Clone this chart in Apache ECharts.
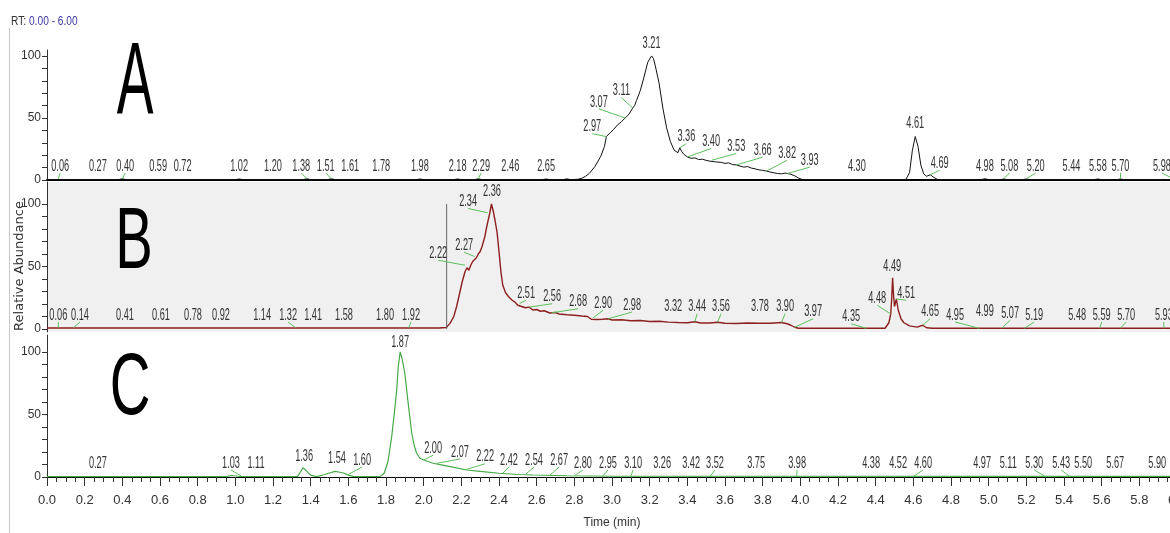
<!DOCTYPE html>
<html>
<head>
<meta charset="utf-8">
<script src="https://cdn.jsdelivr.net/npm/echarts@6/dist/echarts.min.js"></script>
<style>
html, body { margin: 0; padding: 0; background: #fff; }
#chart { width: 1170px; height: 533px; }
</style>
</head>
<body>
<div id="chart"></div>
<script>
// Chromatogram traces, [time (min), relative abundance]
const traceA = [
    [0.00, 0.3], [0.05, 0.3], [0.06, 1.0], [0.08, 0.3], [0.38, 0.3], [0.40, 1.0], [0.42, 0.3],
    [1.00, 0.3], [1.02, 0.8], [1.04, 0.3], [1.36, 0.3], [1.38, 1.0], [1.40, 0.3], [1.49, 0.3], [1.51, 1.0], [1.53, 0.3],
    [1.96, 0.3], [1.98, 0.8], [2.00, 0.3], [2.16, 0.3], [2.18, 0.8], [2.20, 0.3], [2.27, 0.3], [2.29, 1.0], [2.31, 0.3],
    [2.63, 0.3], [2.65, 0.8], [2.67, 0.3], [2.74, 0.3], [2.76, 0.9], [2.78, 0.3],
    [2.82, 0.6], [2.84, 1.4], [2.86, 3.0], [2.88, 5.4], [2.91, 11], [2.94, 19], [2.96, 27], [2.97, 35],
    [2.98, 36], [2.99, 38], [3.00, 37.5], [3.01, 41], [3.02, 42], [3.03, 44.5], [3.04, 44], [3.05, 47], [3.06, 46.5],
    [3.07, 50], [3.08, 49], [3.09, 53], [3.10, 52], [3.11, 58], [3.12, 60], [3.13, 64], [3.15, 72], [3.17, 83], [3.19, 95],
    [3.21, 100], [3.22, 98], [3.23, 92], [3.25, 78], [3.27, 58], [3.29, 42], [3.31, 31], [3.33, 24], [3.34, 23], [3.35, 22],
    [3.36, 26], [3.37, 23], [3.38, 21], [3.39, 19.5], [3.40, 18.5], [3.42, 17.5], [3.44, 17.8], [3.46, 16.5], [3.48, 16.8],
    [3.50, 15.8], [3.52, 15.2], [3.53, 16], [3.55, 14.6], [3.58, 14.2], [3.60, 13.4], [3.62, 13.8], [3.64, 12.4], [3.66, 12.2],
    [3.68, 11.2], [3.70, 10.4], [3.72, 10.8], [3.74, 9.6], [3.76, 9.0], [3.78, 8.2], [3.80, 7.8], [3.82, 7.2], [3.84, 6.4],
    [3.86, 5.8], [3.88, 5.2], [3.90, 5.0], [3.92, 5.6], [3.93, 5.2], [3.95, 4.6], [3.97, 3.4], [3.99, 1.6], [4.01, 0.4],
    [4.56, 0.3], [4.58, 6], [4.595, 24], [4.61, 35], [4.625, 27], [4.64, 12], [4.655, 5], [4.67, 3], [4.69, 4.2], [4.71, 2], [4.73, 0.3],
    [4.96, 0.3], [4.98, 1.0], [5.00, 0.3], [5.06, 0.3], [5.08, 0.8], [5.10, 0.3], [5.18, 0.3], [5.20, 0.8], [5.22, 0.3],
    [5.56, 0.3], [5.58, 0.8], [5.60, 0.3], [5.68, 0.3], [5.70, 0.8], [5.72, 0.3], [6.00, 0.3]
];
const traceB = [
    [0.00, 0.8], [0.13, 0.8], [0.14, 1.5], [0.15, 0.8], [1.31, 0.8], [1.32, 1.5], [1.33, 0.8],
    [1.57, 0.8], [1.58, 1.8], [1.60, 0.8], [1.61, 1.6], [1.63, 0.8], [1.79, 0.8], [1.80, 1.6], [1.81, 0.8],
    [2.08, 0.8], [2.12, 1.2], [2.14, 4.5], [2.16, 10], [2.175, 18], [2.19, 28], [2.205, 38], [2.22, 46], [2.23, 49],
    [2.24, 47], [2.25, 51], [2.26, 54], [2.27, 53], [2.28, 57], [2.29, 60], [2.30, 62], [2.31, 66], [2.325, 74], [2.335, 82],
    [2.35, 92], [2.36, 100], [2.37, 94], [2.38, 86], [2.39, 77], [2.40, 62], [2.41, 46], [2.42, 35], [2.435, 29], [2.45, 26],
    [2.47, 23], [2.485, 21.5], [2.50, 19], [2.51, 20.5], [2.52, 18], [2.54, 17], [2.56, 17.5], [2.58, 15.2], [2.60, 15.6],
    [2.62, 14.2], [2.64, 14.6], [2.67, 12.8], [2.70, 13.2], [2.72, 12], [2.76, 11.4], [2.80, 11], [2.84, 10.4], [2.87, 10], [2.89, 7.8],
    [2.90, 9.0], [2.92, 7.6], [2.95, 7.8], [2.98, 8.2], [3.00, 7.2], [3.05, 7.4], [3.10, 6.6], [3.15, 6.8], [3.20, 6.0],
    [3.25, 6.2], [3.30, 5.5], [3.35, 5.2], [3.40, 5.0], [3.44, 5.8], [3.47, 4.8], [3.52, 4.8], [3.56, 5.4], [3.60, 4.6],
    [3.66, 4.4], [3.72, 4.8], [3.78, 4.6], [3.84, 4.6], [3.90, 5.2], [3.93, 4.2], [3.95, 3.0], [3.97, 1.4], [3.99, 0.6],
    [4.06, 0.6], [4.07, 2.0], [4.08, 0.6], [4.45, 0.6], [4.47, 5], [4.48, 12], [4.485, 24], [4.49, 41], [4.495, 27], [4.50, 18],
    [4.51, 24], [4.52, 15], [4.535, 8], [4.55, 5], [4.58, 2.5], [4.62, 1.5], [4.65, 3.0], [4.67, 1.0], [4.70, 0.6],
    [4.99, 0.6], [5.00, 1.6], [5.01, 0.6], [6.00, 0.6]
];
const traceC = [
    [0.00, 0.3], [0.95, 0.3], [0.98, 1.2], [1.03, 0.4], [1.33, 0.3], [1.36, 7.4], [1.38, 4.5], [1.40, 1.5], [1.43, 0.3],
    [1.47, 1.8], [1.50, 3.2], [1.53, 4.5], [1.555, 3.8], [1.575, 3.2], [1.60, 1.5], [1.63, 0.3], [1.77, 0.5],
    [1.79, 3], [1.81, 12], [1.83, 32], [1.845, 52], [1.857, 70], [1.865, 88], [1.875, 100], [1.885, 95], [1.90, 83],
    [1.92, 56], [1.937, 35], [1.95, 25], [1.963, 19], [1.98, 15], [2.00, 13.6], [2.05, 11], [2.10, 9.5], [2.14, 8.3],
    [2.23, 5.6], [2.30, 4.5], [2.40, 3], [2.50, 2], [2.58, 1.6], [2.70, 1.2], [2.76, 1], [3.00, 0.6], [6.00, 0.5]
];

// Peak labels: [RT, apex abundance (null = no leader line), label time, label height]
const labelsA = [
    [0.06, 1, 0.07, 11.3], [0.27, null, 0.27, 11.3], [0.40, 1, 0.415, 11.3], [0.59, null, 0.59, 11.3], [0.72, null, 0.72, 11.3],
    [1.02, null, 1.02, 11.3], [1.20, null, 1.20, 11.3], [1.38, 1, 1.35, 11.3], [1.51, 1, 1.48, 11.3], [1.61, null, 1.61, 11.3],
    [1.78, null, 1.775, 11.3], [1.98, null, 1.98, 11.3], [2.18, null, 2.18, 11.3], [2.29, 1, 2.305, 11.3], [2.46, null, 2.46, 11.3],
    [2.65, null, 2.65, 11.3], [2.97, 35, 2.895, 43], [3.07, 50, 2.93, 63], [3.11, 58, 3.05, 72], [3.21, null, 3.21, 110],
    [3.36, 26, 3.395, 35], [3.40, 18.5, 3.526, 31], [3.53, 16, 3.66, 27], [3.66, 12.2, 3.80, 24], [3.82, 7.2, 3.93, 21.5],
    [3.93, 5.2, 4.05, 16], [4.30, null, 4.30, 11.3], [4.61, null, 4.61, 46], [4.69, 4.2, 4.74, 13.5], [4.98, null, 4.98, 11.3],
    [5.08, 1, 5.11, 11.3], [5.20, 1, 5.25, 11.3], [5.44, null, 5.44, 11.3], [5.58, null, 5.58, 11.3], [5.70, 1, 5.70, 11.3],
    [5.98, 1, 5.92, 11.3]
];
const labelsB = [
    [0.06, 1, 0.06, 11.2], [0.14, 1, 0.175, 11.2], [0.41, null, 0.414, 11.2], [0.61, null, 0.605, 11.2], [0.78, null, 0.775, 11.2],
    [0.92, null, 0.924, 11.2], [1.14, null, 1.142, 11.2], [1.32, 1, 1.28, 11.2], [1.41, null, 1.413, 11.2], [1.58, null, 1.577, 11.2],
    [1.80, null, 1.795, 11.2], [1.92, 1, 1.933, 11.2], [2.22, 51, 2.077, 60.6], [2.27, 58, 2.215, 67], [2.34, 93, 2.236, 102],
    [2.36, null, 2.363, 110], [2.51, 20.5, 2.544, 28.6], [2.56, 17.5, 2.682, 25.8], [2.68, 13, 2.82, 21.8], [2.90, 9, 2.953, 20.6],
    [2.98, 8.2, 3.107, 19.2], [3.32, null, 3.325, 17.8], [3.44, 5.8, 3.452, 17.8], [3.56, 5.4, 3.579, 17.8], [3.78, null, 3.786, 17.8],
    [3.90, 5.2, 3.919, 17.8], [3.97, 1.4, 4.068, 13.8], [4.35, 0.6, 4.27, 9.8], [4.48, 12, 4.408, 24.6], [4.49, null, 4.488, 50.4],
    [4.51, 24, 4.562, 28.6], [4.65, 3, 4.689, 13.8], [4.95, 0.6, 4.822, 11.2], [4.99, null, 4.98, 13.8], [5.07, 0.6, 5.114, 12.6],
    [5.19, 0.6, 5.242, 11.2], [5.48, null, 5.47, 11.2], [5.59, 0.6, 5.60, 11.2], [5.70, 0.6, 5.73, 11.2], [5.93, 0.6, 5.93, 11.2]
];
const labelsC = [
    [0.27, null, 0.27, 11.2], [1.03, 1, 0.977, 11.2], [1.11, null, 1.11, 11.2], [1.36, null, 1.365, 16.2], [1.54, null, 1.54, 15],
    [1.60, 2, 1.673, 13.6], [1.87, null, 1.875, 108], [2.00, 13.6, 2.05, 23], [2.07, 11, 2.193, 20], [2.22, 5.8, 2.326, 16.2],
    [2.42, 3, 2.453, 13.6], [2.54, 2, 2.586, 13.6], [2.67, 1.4, 2.719, 13.6], [2.80, 1, 2.846, 11.2], [2.95, 0.6, 2.979, 11.2],
    [3.10, 0.6, 3.112, 11.2], [3.26, null, 3.266, 11.2], [3.42, null, 3.42, 11.2], [3.52, 0.5, 3.547, 11.2], [3.75, null, 3.765, 11.2],
    [3.98, 0.5, 3.983, 11.2], [4.38, null, 4.376, 11.2], [4.52, null, 4.519, 11.2], [4.60, 0.5, 4.652, 11.2], [4.97, null, 4.965, 11.2],
    [5.11, null, 5.104, 11.2], [5.30, 0.5, 5.242, 11.2], [5.43, 0.5, 5.385, 11.2], [5.50, null, 5.502, 11.2], [5.67, null, 5.672, 11.2],
    [5.90, null, 5.895, 11.2]
];

// Peak start marker in trace B: [time, top]
const markerB = [2.122, 100];

// Axis ticks
const yTicks = [0, 10, 20, 30, 40, 50, 60, 70, 80, 90, 100];
const yLabels = [0, 50, 100];
const timeRange = [0, 6];
const timeStep = 0.2;

const axisFont = '"Liberation Sans", sans-serif';
const dark = '#333';

const chart = echarts.init(document.getElementById('chart'));

function yAxisFor(gridIndex, min, max) {
    return {
        type: 'value', gridIndex, min, max,
        axisLine: {show: true, lineStyle: {color: dark, width: 1}},
        axisTick: {show: true, length: 5, customValues: yTicks, lineStyle: {color: dark}},
        axisLabel: {show: true, customValues: yLabels, margin: 6, color: dark,
            fontSize: 12, fontFamily: axisFont},
        splitLine: {show: false}
    };
}

function traceSeries(data, idx, color, width) {
    return {
        type: 'line', data, xAxisIndex: idx, yAxisIndex: idx,
        symbol: 'none', animation: false,
        lineStyle: {color: color, width: width}
    };
}

function peakLabelSeries(labels, idx) {
    return {
        type: 'custom', data: labels, xAxisIndex: idx, yAxisIndex: idx,
        encode: {x: 2, y: 3}, clip: false, silent: true, animation: false, z: 5,
        renderItem: function (params, api) {
            const rt = api.value(0);
            const apex = api.value(1);
            const pos = api.coord([api.value(2), api.value(3)]);
            const children = [{
                type: 'text', x: pos[0], y: pos[1], scaleX: 0.54,
                style: {text: rt.toFixed(2), font: '17px "Liberation Sans", sans-serif',
                    fill: dark, align: 'center', verticalAlign: 'middle'}
            }];
            if (!isNaN(apex)) {
                const end = api.coord([rt, apex]);
                children.push({
                    type: 'line',
                    shape: {x1: pos[0], y1: pos[1] + 7, x2: end[0], y2: end[1]},
                    style: {stroke: '#5cc05c', lineWidth: 1}
                });
            }
            return {type: 'group', children};
        }
    };
}

const gridLeft = 47;
const gridWidth = 1130;

chart.setOption({
    animation: false,
    grid: [
        {left: gridLeft, top: 50, width: gridWidth, height: 130, outerBoundsMode: 'none'},
        {left: gridLeft, top: 182, width: gridWidth, height: 150, outerBoundsMode: 'none',
            show: true, backgroundColor: '#f0f0f0', borderWidth: 0},
        {left: gridLeft, top: 335, width: gridWidth, height: 142, outerBoundsMode: 'none'}
    ],
    xAxis: [
        {type: 'value', gridIndex: 0, min: timeRange[0], max: timeRange[1],
            axisLine: {show: true, onZero: false, lineStyle: {color: '#000', width: 2}},
            axisTick: {show: false}, axisLabel: {show: false}, splitLine: {show: false}},
        {type: 'value', gridIndex: 1, min: timeRange[0], max: timeRange[1], show: false},
        {type: 'value', gridIndex: 2, min: timeRange[0], max: timeRange[1], interval: timeStep,
            name: 'Time (min)', nameLocation: 'middle', nameGap: 40,
            nameTextStyle: {color: dark, fontSize: 12, fontFamily: axisFont},
            axisLine: {show: true, onZero: false, lineStyle: {color: '#000', width: 1}},
            axisTick: {show: true, length: 9, lineStyle: {color: dark}},
            minorTick: {show: true, splitNumber: 4, length: 5, lineStyle: {color: dark}},
            axisLabel: {margin: 17, color: dark, fontSize: 13, fontFamily: axisFont,
                formatter: v => v.toFixed(1)},
            splitLine: {show: false}}
    ],
    yAxis: [
        yAxisFor(0, 0, 104.8),
        yAxisFor(1, -2.4, 117.6),
        yAxisFor(2, 0, 113.6)
    ],
    graphic: [
        {type: 'line', shape: {x1: 9.5, y1: 28, x2: 9.5, y2: 533}, style: {stroke: '#c8c8c8', lineWidth: 1}},
        {type: 'text', x: 11, y: 22, scaleX: 0.85, style: {
            text: '{a|RT:} {b|0.00 - 6.00}', verticalAlign: 'middle',
            rich: {a: {fill: dark, font: '12px "Liberation Sans"'}, b: {fill: '#3a3aa8', font: '12px "Liberation Sans"'}}}},
        {type: 'text', x: 20, y: 266, rotation: Math.PI / 2, style: {
            text: 'Relative Abundance', font: '13px "DejaVu Sans"', fill: dark, align: 'center', verticalAlign: 'middle'}},
        {type: 'text', x: 135, y: 86, scaleX: 0.54, style: {
            text: 'A', font: '102px "Liberation Sans"', fill: '#000', align: 'center', verticalAlign: 'middle'}},
        {type: 'text', x: 134, y: 244, scaleX: 0.64, style: {
            text: 'B', font: '88px "Liberation Sans"', fill: '#000', align: 'center', verticalAlign: 'middle'}},
        {type: 'text', x: 130, y: 390, scaleX: 0.64, style: {
            text: 'C', font: '88px "Liberation Sans"', fill: '#000', align: 'center', verticalAlign: 'middle'}}
    ],
    series: [
        traceSeries(traceA, 0, '#111', 1),
        traceSeries(traceB, 1, '#8e1f1f', 1.4),
        traceSeries(traceC, 2, '#45a845', 1.2),
        {type: 'line', xAxisIndex: 1, yAxisIndex: 1, symbol: 'none', animation: false,
            data: [[markerB[0], 0], [markerB[0], markerB[1]]], lineStyle: {color: '#666', width: 1}},
        peakLabelSeries(labelsA, 0),
        peakLabelSeries(labelsB, 1),
        peakLabelSeries(labelsC, 2)
    ]
});
</script>
</body>
</html>
